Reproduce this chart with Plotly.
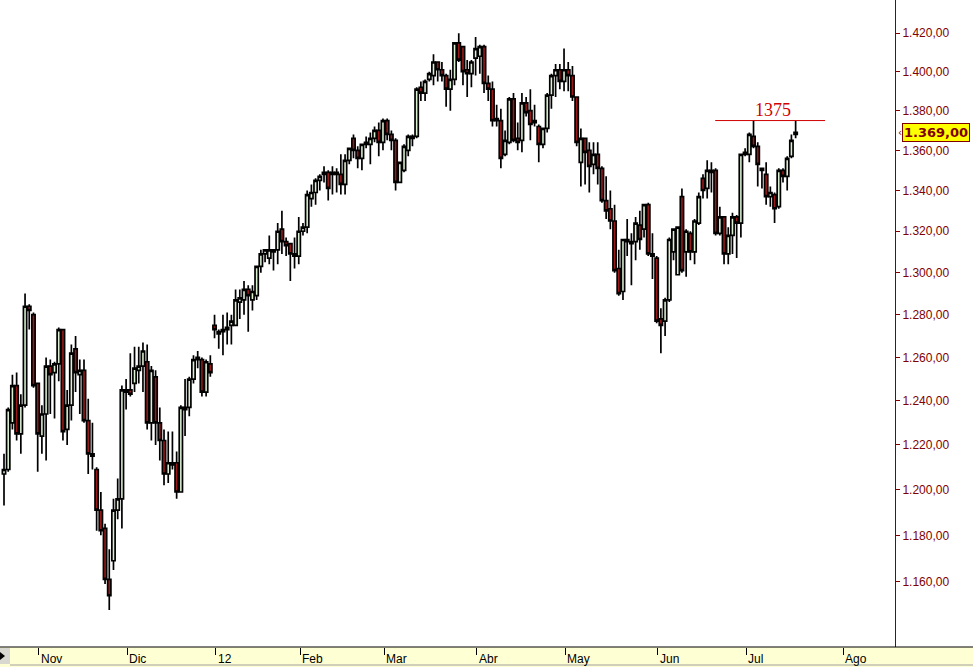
import math
import pandas as pd
import plotly.graph_objects as go

# ---------------- data (daily bars, Oct 20 2011 - Jul 19 2012) ----------------
holidays = ["2011-11-24", "2011-12-26", "2012-01-02", "2012-01-16",
            "2012-02-20", "2012-05-28", "2012-07-04"]
dates = [d.strftime("%Y-%m-%d") for d in pd.bdate_range("2011-10-20", "2012-07-19")
         if d.strftime("%Y-%m-%d") not in holidays]

opens = [1207, 1209, 1230, 1247, 1225, 1238, 1284, 1280, 1248, 1224,
         1234, 1256, 1253, 1257, 1273, 1227, 1238, 1264, 1252, 1254,
         1231, 1216, 1209, 1191, 1183, 1161, 1169, 1191, 1196, 1244,
         1245, 1248, 1254, 1256, 1258, 1230, 1251, 1230, 1222, 1207,
         1212, 1212, 1199, 1236, 1237, 1250, 1259, 1259, 1244, 1257,
         1275, 1271, 1272, 1273, 1275, 1275, 1286, 1287, 1292, 1287,
         1289, 1303, 1309, 1307, 1310, 1311, 1321, 1315, 1314, 1308,
         1308, 1320, 1322, 1336, 1339, 1345, 1348, 1349, 1348, 1348,
         1348, 1343, 1355, 1366, 1360, 1356, 1363, 1363, 1366, 1370,
         1364, 1375, 1368, 1365, 1344, 1350, 1360, 1366, 1367, 1392,
         1389, 1396, 1398, 1405, 1401, 1398, 1391, 1396, 1415, 1413,
         1401, 1399, 1407, 1408, 1413, 1394, 1391, 1376, 1375, 1358,
         1364, 1386, 1366, 1365, 1384, 1380, 1374, 1372, 1363, 1371,
         1388, 1398, 1401, 1395, 1401, 1398, 1387, 1354, 1366, 1360,
         1353, 1358, 1351, 1335, 1331, 1325, 1302, 1291, 1315, 1314,
         1315, 1323, 1321, 1333, 1309, 1307, 1278, 1277, 1287, 1310,
         1299, 1337, 1310, 1319, 1310, 1324, 1346, 1341, 1349, 1350,
         1319, 1327, 1309, 1318, 1327, 1324, 1358, 1358, 1367, 1362,
         1350, 1348, 1337, 1338, 1332, 1350, 1347, 1357, 1368]

highs = [1216, 1237, 1252, 1253, 1243, 1290, 1285, 1281, 1248, 1238,
         1260, 1259, 1258, 1274, 1273, 1245, 1266, 1270, 1259, 1259,
         1241, 1230, 1210, 1199, 1185, 1174, 1196, 1205, 1247, 1250,
         1262, 1265, 1265, 1267, 1266, 1256, 1254, 1237, 1227, 1226,
         1226, 1217, 1238, 1250, 1251, 1261, 1263, 1260, 1259, 1261,
         1280, 1273, 1280, 1281, 1280, 1292, 1292, 1296, 1294, 1294,
         1303, 1311, 1311, 1318, 1311, 1324, 1330, 1317, 1314, 1317,
         1327, 1324, 1340, 1343, 1346, 1348, 1352, 1350, 1352, 1351,
         1358, 1358, 1361, 1368, 1362, 1363, 1367, 1369, 1372, 1374,
         1376, 1376, 1370, 1366, 1354, 1363, 1368, 1368, 1392, 1395,
         1396, 1400, 1409, 1405, 1405, 1399, 1401, 1415, 1420, 1413,
         1406, 1406, 1418, 1414, 1414, 1398, 1395, 1383, 1381, 1370,
         1387, 1389, 1374, 1389, 1387, 1391, 1383, 1373, 1371, 1389,
         1399, 1404, 1404, 1412, 1405, 1403, 1387, 1371, 1366, 1364,
         1364, 1364, 1352, 1347, 1340, 1333, 1311, 1316, 1326, 1319,
         1327, 1330, 1333, 1334, 1319, 1308, 1283, 1288, 1317, 1321,
         1322, 1341, 1321, 1320, 1326, 1339, 1348, 1355, 1354, 1351,
         1332, 1327, 1322, 1329, 1328, 1358, 1361, 1369, 1375, 1364,
         1351, 1354, 1342, 1339, 1351, 1351, 1357, 1368, 1375]

lows = [1193, 1208, 1227, 1222, 1216, 1237, 1273, 1246, 1208, 1216,
        1213, 1234, 1232, 1249, 1222, 1220, 1231, 1244, 1234, 1230,
        1207, 1209, 1182, 1180, 1159, 1148, 1165, 1187, 1183, 1236,
        1242, 1244, 1248, 1244, 1227, 1222, 1220, 1213, 1202, 1203,
        1209, 1196, 1199, 1224, 1233, 1248, 1255, 1242, 1242, 1251,
        1269, 1264, 1261, 1266, 1266, 1275, 1278, 1280, 1272, 1282,
        1287, 1300, 1305, 1304, 1301, 1304, 1309, 1308, 1296, 1302,
        1304, 1318, 1319, 1332, 1333, 1340, 1344, 1335, 1338, 1339,
        1338, 1338, 1353, 1356, 1351, 1350, 1361, 1353, 1364, 1357,
        1360, 1365, 1360, 1340, 1344, 1349, 1357, 1362, 1366, 1385,
        1385, 1395, 1393, 1395, 1395, 1382, 1380, 1393, 1405, 1393,
        1387, 1392, 1398, 1399, 1389, 1385, 1372, 1372, 1351, 1357,
        1363, 1364, 1360, 1359, 1377, 1365, 1372, 1354, 1361, 1369,
        1381, 1387, 1391, 1390, 1390, 1385, 1362, 1342, 1343, 1339,
        1348, 1343, 1334, 1326, 1321, 1300, 1289, 1287, 1308, 1294,
        1306, 1311, 1317, 1308, 1297, 1276, 1262, 1270, 1286, 1306,
        1299, 1300, 1298, 1306, 1304, 1323, 1336, 1336, 1339, 1318,
        1318, 1304, 1304, 1309, 1307, 1317, 1357, 1354, 1361, 1342,
        1341, 1333, 1332, 1324, 1331, 1344, 1340, 1356, 1366]

closes = [1209, 1236, 1247, 1225, 1238, 1284, 1282, 1247, 1225, 1234,
          1256, 1252, 1257, 1273, 1226, 1238, 1262, 1253, 1254, 1231,
          1216, 1215, 1191, 1182, 1161, 1154, 1191, 1196, 1245, 1245,
          1243, 1255, 1256, 1263, 1230, 1254, 1230, 1222, 1207, 1212,
          1211, 1199, 1237, 1237, 1250, 1259, 1260, 1244, 1258, 1253,
          1273, 1272, 1273, 1274, 1277, 1287, 1288, 1292, 1289, 1291,
          1303, 1309, 1311, 1311, 1311, 1320, 1315, 1313, 1309, 1309,
          1320, 1322, 1338, 1339, 1345, 1347, 1349, 1341, 1349, 1349,
          1343, 1355, 1361, 1360, 1356, 1363, 1364, 1366, 1370, 1364,
          1375, 1368, 1365, 1344, 1354, 1362, 1367, 1367, 1391, 1389,
          1395, 1399, 1405, 1401, 1398, 1391, 1396, 1415, 1406, 1400,
          1399, 1405, 1412, 1413, 1394, 1391, 1375, 1375, 1356, 1365,
          1386, 1365, 1364, 1384, 1379, 1373, 1375, 1363, 1371, 1388,
          1398, 1401, 1395, 1401, 1398, 1387, 1364, 1366, 1359, 1352,
          1358, 1351, 1335, 1330, 1325, 1301, 1290, 1316, 1316, 1315,
          1324, 1316, 1333, 1309, 1308, 1277, 1275, 1287, 1316, 1321,
          1322, 1301, 1320, 1310, 1325, 1337, 1340, 1350, 1350, 1319,
          1327, 1309, 1318, 1327, 1324, 1358, 1359, 1368, 1362, 1353,
          1351, 1337, 1339, 1331, 1350, 1347, 1356, 1365, 1369]

last_price = 1369.0
resistance = 1375

price_ticks = [1160, 1180, 1200, 1220, 1240, 1260, 1280, 1300, 1320,
               1340, 1360, 1380, 1400, 1420]
month_labels = ["Nov", "Dic", "12", "Feb", "Mar", "Abr", "May", "Jun", "Jul", "Ago"]

# ---------------- derived helpers ----------------
x = list(range(len(dates)))
month_idx = []
prev = None
for i, d in enumerate(dates):
    m = d[:7]
    if m != prev and i > 0:
        month_idx.append(i)
    prev = m
month_idx.append(199)          # "Ago" position (beyond last bar)
tick_pos = [p + 0.3 for p in month_idx]

y_lo, y_hi = 1132.4, 1437.5
L_lo, L_hi = math.log10(y_lo), math.log10(y_hi)


def py(p):
    return (math.log10(p) - L_lo) / (L_hi - L_lo)


PH = 647.0  # plot height px
PW = 895.0  # plot width px

fig = go.Figure(go.Candlestick(
    x=x, open=opens, high=highs, low=lows, close=closes,
    increasing=dict(line=dict(color="#000000", width=1.7), fillcolor="#DCF0D4"),
    decreasing=dict(line=dict(color="#000000", width=1.7), fillcolor="#9A1A1A"),
    whiskerwidth=0, hoverinfo="skip", showlegend=False,
))

shapes = [
    # bottom date strip
    dict(type="rect", xref="paper", yref="paper", x0=0, x1=973 / PW,
         y0=-20 / PH, y1=0, fillcolor="#FFFFD4", line=dict(width=0), layer="below"),
    dict(type="line", xref="paper", yref="paper", x0=0, x1=973 / PW,
         y0=0, y1=0, line=dict(color="#000000", width=1)),
    # little arrow box on the left of the strip
    dict(type="rect", xref="paper", yref="paper", x0=0, x1=10 / PW,
         y0=-17 / PH, y1=-1 / PH, fillcolor="#D8D8D0", line=dict(width=0)),
    dict(type="path", xref="paper", yref="paper",
         path=f"M 0,{-5/PH} L {5/PW},{-9/PH} L 0,{-13/PH} Z",
         fillcolor="#000000", line=dict(width=0)),
    # bottom tab row
    dict(type="line", xref="paper", yref="paper", x0=10 / PW, x1=973 / PW,
         y0=-18 / PH, y1=-18 / PH, line=dict(color="#A0A0A0", width=1)),
    # resistance line
    dict(type="line", xref="x", yref="paper", x0=168.9, x1=195.0,
         y0=py(resistance), y1=py(resistance),
         line=dict(color="#D00000", width=1)),
]

annotations = []
for pos, lab in zip(tick_pos, month_labels):
    annotations.append(dict(
        x=pos, xref="x", y=-12 / PH, yref="paper", text=lab, showarrow=False,
        xanchor="left", yanchor="middle", xshift=0,
        font=dict(family="Liberation Sans, Arial", size=12, color="#000000")))

annotations.append(dict(
    x=182.7, xref="x", y=py(resistance), yref="paper", text=str(resistance),
    showarrow=False, xanchor="center", yanchor="bottom", yshift=-1,
    font=dict(family="Liberation Serif, Times New Roman", size=18, color="#D00000")))

annotations.append(dict(
    x=902 / PW, xref="paper", y=py(last_price), yref="paper",
    text="<b>1.369,00</b>", showarrow=False, xanchor="left", yanchor="middle",
    bgcolor="#FFFF00", bordercolor="#800000", borderwidth=1, borderpad=1,
    font=dict(family="DejaVu Sans, Arial", size=13, color="#800000")))
annotations.append(dict(
    x=896 / PW, xref="paper", y=py(last_price), yref="paper",
    text="‹", showarrow=False, xanchor="left", yanchor="middle",
    font=dict(family="DejaVu Sans", size=10, color="#800000")))

fig.update_layout(
    width=973, height=667,
    margin=dict(l=0, r=78, t=0, b=20),
    paper_bgcolor="white", plot_bgcolor="white",
    boxgap=0.12, boxgroupgap=0.12,
    separators=",.",
    showlegend=False,
    xaxis=dict(range=[-0.95, 211.6], showgrid=False, zeroline=False,
               rangeslider=dict(visible=False),
               tickvals=tick_pos, ticktext=[""] * len(tick_pos),
               ticks="outside", ticklen=7, tickcolor="#000000", tickwidth=1,
               showline=False, fixedrange=True),
    yaxis=dict(type="log", side="right", range=[L_lo, L_hi],
               tickvals=price_ticks, tickformat=",.2f",
               ticks="outside", ticklen=4, tickcolor="#800000",
               showline=True, linecolor="#800000", linewidth=1,
               showgrid=False, zeroline=False, fixedrange=True,
               tickfont=dict(family="Liberation Sans, Arial", size=12, color="#800000")),
    shapes=shapes,
    annotations=annotations,
)

fig.write_html(
    "out.html",
    config={"displayModeBar": False},
    post_script="document.body.style.margin='0';document.body.style.overflow='hidden';",
)
